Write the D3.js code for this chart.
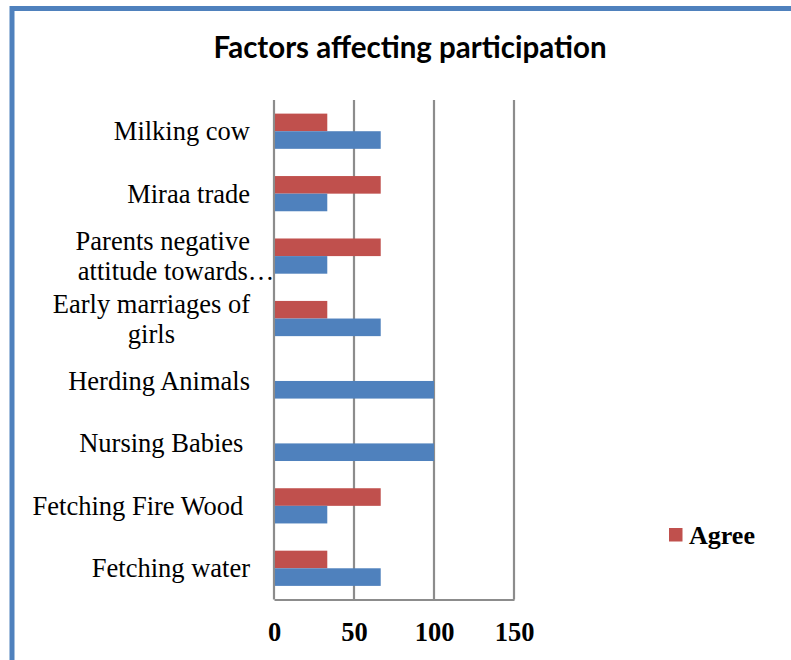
<!DOCTYPE html>
<html>
<head>
<meta charset="utf-8">
<script src="https://cdn.jsdelivr.net/npm/d3@7/dist/d3.min.js"></script>
<style>
  html, body { margin: 0; padding: 0; background: #fff; }
  svg { display: block; }
  text { white-space: pre; }
</style>
</head>
<body>
<svg id="chart" width="791" height="660"></svg>
<script>
// Categories, top to bottom. Each entry is a list of label lines.
const categories = [
  ["Milking cow"],
  ["Miraa trade"],
  ["Parents negative", "attitude towards…"],
  ["Early marriages of", "girls"],
  ["Herding Animals"],
  ["Nursing Babies "],
  ["Fetching Fire Wood "],
  ["Fetching water"]
];
const agreeValues    = [33.3, 66.7, 66.7, 33.3, 0, 0, 66.7, 33.3];
const disagreeValues = [66.7, 33.3, 33.3, 66.7, 100, 100, 33.3, 66.7];
const seriesNames = ["Agree", "Disagree"];
const xTicks = [0, 50, 100, 150];
const titleText = "Factors affecting participation";

const colors = { Agree: "#C0504D", Disagree: "#4F81BD" };
const svg = d3.select("#chart");

// Outer frame
svg.append("rect")
  .attr("x", 12).attr("y", 8.5)
  .attr("width", 900).attr("height", 900)
  .attr("fill", "none")
  .attr("stroke", "#4F81BD")
  .attr("stroke-width", 5);

// Title
svg.append("text")
  .attr("x", 410).attr("y", 58)
  .attr("text-anchor", "middle")
  .attr("font-family", "Lato, 'Open Sans', sans-serif")
  .attr("font-weight", "bold")
  .attr("font-size", 29.5)
  .attr("fill", "#000")
  .text(titleText);

const plot = { left: 274, right: 514, top: 100, bottom: 599.5 };

const x = d3.scaleLinear().domain([0, 150]).range([plot.left, plot.right]);
const y = d3.scaleBand()
  .domain(d3.range(categories.length))
  .range([plot.top, plot.bottom])
  .paddingInner(0.436)
  .paddingOuter(0.218);
const sub = d3.scaleBand().domain(seriesNames).range([0, y.bandwidth()]);

const gridColor = "#8c8c8c";

// Vertical gridlines
svg.append("g").selectAll("line")
  .data(xTicks)
  .join("line")
  .attr("x1", d => x(d)).attr("x2", d => x(d))
  .attr("y1", plot.top).attr("y2", plot.bottom)
  .attr("stroke", gridColor)
  .attr("stroke-width", 2.2);

// Bottom axis with bold serif labels
const xAxis = d3.axisBottom(x).tickValues(xTicks).tickSize(0).tickPadding(23);
const gx = svg.append("g")
  .attr("transform", `translate(0,${plot.bottom})`)
  .call(xAxis);
gx.select(".domain").attr("stroke", gridColor).attr("stroke-width", 2.2);
gx.selectAll("text")
  .attr("font-family", "'Liberation Serif', 'Times New Roman', serif")
  .attr("font-weight", "bold")
  .attr("font-size", 26.5)
  .attr("fill", "#000");

// Bars
const rows = categories.map((c, i) => ({
  i,
  values: [
    { key: "Agree", v: agreeValues[i] },
    { key: "Disagree", v: disagreeValues[i] }
  ]
}));

svg.append("g").selectAll("g")
  .data(rows)
  .join("g")
  .attr("transform", d => `translate(0,${y(d.i)})`)
  .selectAll("rect")
  .data(d => d.values)
  .join("rect")
  .attr("x", x(0) + 1)
  .attr("y", d => sub(d.key))
  .attr("width", d => Math.max(0, x(d.v) - x(0) - 1))
  .attr("height", sub.bandwidth())
  .attr("fill", d => colors[d.key]);

// Category labels
const labelRight = 250;
const lineH = 30;
const labelFont = "'Liberation Serif', 'Times New Roman', serif";
const gl = svg.append("g")
  .attr("font-family", labelFont)
  .attr("font-size", 26.5)
  .attr("fill", "#000");

categories.forEach((lines, i) => {
  const cy = y(i) + y.bandwidth() / 2;
  const n = lines.length;
  const texts = lines.map((ln, j) => gl.append("text")
    .attr("y", cy + (j - (n - 1) / 2) * lineH + 9)
    .text(ln));
  if (n === 1) {
    texts[0].attr("x", labelRight).attr("text-anchor", "end");
  } else {
    // wrapped labels: lines centred within a right-aligned block,
    // a trailing ellipsis is allowed to overflow the block
    const tmp = gl.append("text");
    const widths = lines.map(ln => {
      tmp.text(ln.replace(/…$/, ""));
      return tmp.node().getComputedTextLength();
    });
    tmp.remove();
    const maxW = d3.max(widths);
    const cx = labelRight - maxW / 2;
    texts.forEach((t, j) => t.attr("x", cx - widths[j] / 2).attr("text-anchor", "start"));
  }
});

// Legend
const lg = svg.append("g").attr("transform", "translate(669,528)");
lg.append("rect").attr("width", 13.5).attr("height", 13.5).attr("fill", colors.Agree);
lg.append("text")
  .attr("x", 20).attr("y", 16)
  .attr("font-family", labelFont)
  .attr("font-weight", "bold")
  .attr("font-size", 26)
  .attr("fill", "#000")
  .text(seriesNames[0]);
</script>
</body>
</html>
